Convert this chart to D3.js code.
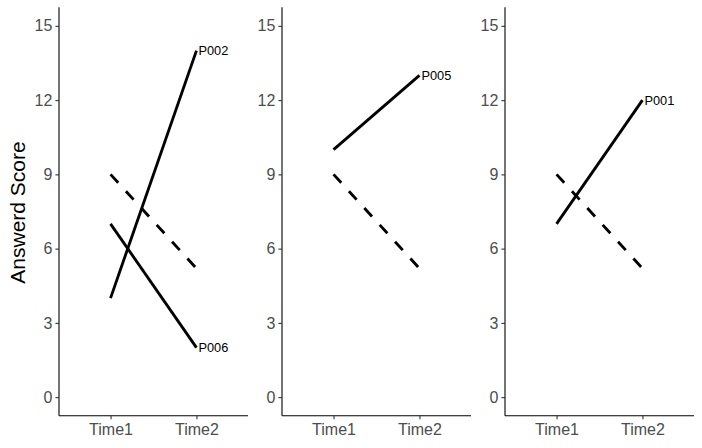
<!DOCTYPE html>
<html><head><meta charset="utf-8">
<script src="https://cdn.jsdelivr.net/npm/d3@7"></script>
<style>body{margin:0;background:#fff}svg{display:block}</style>
</head><body><div id="chart"></div>
<script>
const times = ["Time1", "Time2"];
const yTicks = [0, 3, 6, 9, 12, 15];
const panels = [0, 1, 2];
const participants = ["P002", "P006", "P005", "P001"];
const participantPanel = [0, 0, 1, 2];
const participantScores = [[4, 14], [7, 2], [10, 13], [7, 12]];
const meanScores = [9, 5.2];
const yLabel = "Answerd Score";

(function () {
const W = 702, H = 448;
const FONT = "Liberation Sans, Arial, sans-serif";
const svg = d3.select("#chart").append("svg").attr("width", W).attr("height", H);
const pTop = 7.3, pBottom = 415.7, pw = 189;
const lefts = [59, 282, 505];
const y = d3.scaleLinear().domain([-0.75, 15.75]).range([pBottom, pTop]);

svg.append("text").attr("transform", `translate(25,${(pTop+pBottom)/2 + 1}) rotate(-90)`)
  .attr("text-anchor", "middle").attr("font-family", FONT)
  .attr("font-size", 21).attr("fill", "#000").text(yLabel);

panels.forEach(p => {
  const g = svg.append("g").attr("transform", `translate(${lefts[p]},0)`);
  const x = d3.scalePoint().domain(times).range([0, pw]).padding(0.6);
  const ya = g.append("g").call(d3.axisLeft(y).tickValues(yTicks).tickSize(3.6).tickPadding(3));
  ya.attr("font-family", FONT).attr("font-size", 16);
  ya.select(".domain").attr("d", `M0,${pTop}V${pBottom}`).attr("stroke", "#000").attr("stroke-width", 1.1);
  ya.selectAll(".tick line").attr("stroke", "#333").attr("stroke-width", 1.1);
  ya.selectAll(".tick text").attr("fill", "#4D4D4D");
  const xa = g.append("g").attr("transform", `translate(0,${pBottom})`)
    .call(d3.axisBottom(x).tickSize(3.6).tickPadding(4));
  xa.attr("font-family", FONT).attr("font-size", 16);
  xa.select(".domain").attr("d", `M0,0H${pw}`).attr("stroke", "#000").attr("stroke-width", 1.1);
  xa.selectAll(".tick line").attr("stroke", "#333").attr("stroke-width", 1.1);
  xa.selectAll(".tick text").attr("fill", "#4D4D4D");
  const line = d3.line().x((d, i) => x(times[i])).y(d => y(d));
  g.append("path").attr("d", line(meanScores)).attr("fill", "none").attr("stroke", "#000")
    .attr("stroke-width", 2.85).attr("stroke-dasharray", "11.4,11.4");
  participants.forEach((name, k) => {
    if (participantPanel[k] !== p) return;
    const s = participantScores[k];
    g.append("path").attr("d", line(s)).attr("fill", "none").attr("stroke", "#000")
      .attr("stroke-width", 2.85);
    g.append("text").attr("x", x(times[1]) + 2).attr("y", y(s[1])).attr("dy", "0.36em")
      .attr("font-family", FONT).attr("font-size", 12.8)
      .attr("fill", "#000").text(name);
  });
});
})();
</script></body></html>
